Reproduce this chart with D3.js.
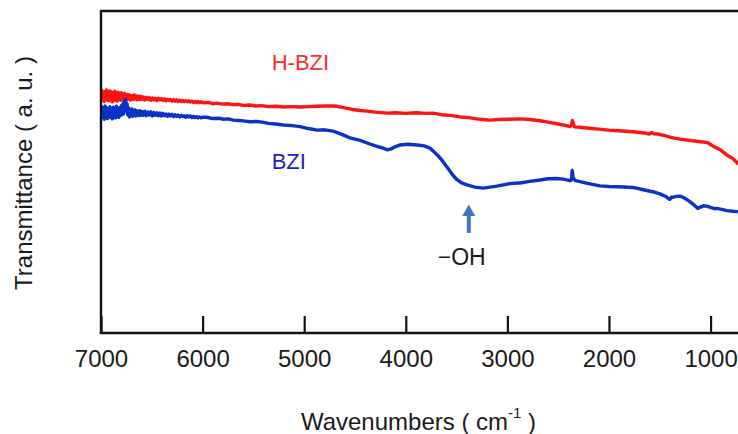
<!DOCTYPE html>
<html>
<head>
<meta charset="utf-8">
<script src="https://cdn.jsdelivr.net/npm/d3@7/dist/d3.min.js"></script>
<style>
  html, body { margin: 0; padding: 0; background: #fff; }
  svg { display: block; font-family: "Liberation Sans", Arial, sans-serif; }
</style>
</head>
<body>
<svg id="chart" width="738" height="434"></svg>
<script>
// FT-IR spectra: wavenumber (cm^-1) vs transmittance (a.u.)
const xTicks = [7000, 6000, 5000, 4000, 3000, 2000, 1000];

const hbziWavenumber = [7000, 6992, 6984, 6976, 6968, 6960, 6952, 6944, 6936, 6928, 6920, 6912, 6904, 6896, 6888, 6880, 6872, 6864, 6856, 6848, 6840, 6832, 6824, 6816, 6808, 6800, 6792, 6784, 6776, 6768, 6760, 6752, 6744, 6736, 6728, 6720, 6712, 6704, 6696, 6688, 6680, 6672, 6664, 6656, 6648, 6640, 6632, 6624, 6616, 6608, 6600,
  6585, 6570, 6555, 6540, 6525, 6510, 6495, 6480, 6465, 6450, 6435, 6420, 6405, 6390, 6375, 6360, 6345, 6330, 6315, 6300, 6285, 6270, 6255, 6240, 6225, 6210, 6195, 6180, 6165, 6150, 6135, 6120, 6105, 6090, 6075, 6060, 6045, 6030, 6015, 6000,
  5980, 5940, 5900, 5860, 5800, 5750, 5700, 5650, 5600, 5531, 5480, 5420, 5350, 5280, 5200, 5120, 5040, 4950, 4880, 4800, 4715, 4675, 4600, 4520, 4450, 4381, 4300, 4184, 4100, 4000, 3900, 3800, 3731, 3650, 3560, 3465, 3380, 3300, 3240, 3171, 3080, 2974, 2876, 2780, 2679, 2600, 2500, 2420, 2384, 2368, 2360, 2352, 2340, 2286, 2200, 2100, 2000, 1900, 1765, 1650, 1600, 1580, 1560, 1520, 1450, 1371, 1300, 1200, 1100, 1040, 1027, 978, 900, 840, 780, 741, 730];
const hbziTransmittance = [72.0, 75.3, 72.6, 74.8, 71.9, 75.0, 73.0, 75.5, 72.3, 74.6, 72.1, 75.2, 72.8, 74.9, 71.8, 74.7, 72.5, 75.1, 72.2, 74.4, 72.0, 74.8, 72.7, 74.3, 72.3, 74.6, 72.6, 74.2, 72.1, 74.5, 72.8, 74.0, 72.4, 74.1, 72.7, 73.9, 72.3, 73.8, 72.6, 73.7, 72.5, 73.9, 72.8, 73.5, 72.4, 73.6, 72.7, 73.4, 72.5, 73.5, 72.6,
  73.3, 72.4, 73.2, 72.5, 73.1, 72.3, 73.0, 72.4, 72.9, 72.2, 72.9, 72.4, 72.8, 72.2, 72.7, 72.1, 72.6, 72.2, 72.5, 72.0, 72.5, 72.0, 72.4, 71.9, 72.3, 71.9, 72.2, 71.8, 72.2, 71.8, 72.1, 71.7, 72.0, 71.6, 71.9, 71.6, 71.9, 71.5, 71.8, 71.6,
  71.5, 71.6, 71.2, 71.4, 71.1, 71.2, 70.9, 71.0, 70.7, 70.8, 70.5, 70.6, 70.3, 70.4, 70.2, 70.3, 70.2, 70.3, 70.4, 70.5, 70.5, 70.4, 69.9, 69.4, 69.1, 68.9, 68.6, 68.3, 68.4, 68.2, 68.4, 68.2, 68.3, 67.8, 67.6, 67.1, 66.9, 66.5, 66.3, 66.1, 66.3, 66.4, 66.5, 66.3, 65.9, 65.5, 64.9, 64.4, 64.1, 64.6, 66.0, 65.2, 64.0, 63.9, 63.6, 63.3, 63.0, 62.8, 62.5, 62.1, 61.8, 62.3, 61.9, 61.8, 61.3, 60.6, 60.2, 59.8, 59.4, 59.2, 59.1, 58.1, 56.8, 55.3, 54.2, 52.9, 52.4];

const bziWavenumber = [7000, 6992, 6984, 6976, 6968, 6960, 6952, 6944, 6936, 6928, 6920, 6912, 6904, 6896, 6888, 6880, 6872, 6864, 6856, 6848, 6840, 6832, 6824, 6816, 6808, 6800, 6792, 6784, 6776, 6768, 6760, 6752, 6744, 6736, 6728, 6720, 6712, 6704, 6696, 6688, 6680, 6672, 6664, 6656, 6648, 6640, 6632, 6624, 6616, 6608, 6600,
  6585, 6570, 6555, 6540, 6525, 6510, 6495, 6480, 6465, 6450, 6435, 6420, 6405, 6390, 6375, 6360, 6345, 6330, 6315, 6300, 6285, 6270, 6255, 6240, 6225, 6210, 6195, 6180, 6165, 6150, 6135, 6120, 6105, 6090, 6075, 6060, 6045, 6030, 6015, 6000,
  5960, 5900, 5840, 5800, 5747, 5700, 5640, 5580, 5531, 5470, 5413, 5350, 5280, 5206, 5120, 5040, 4960, 4873, 4800, 4715, 4630, 4549, 4450, 4381, 4300, 4223, 4184, 4150, 4100, 4056, 3980, 3889, 3820, 3761, 3731, 3680, 3633, 3580, 3534, 3495, 3450, 3397, 3320, 3239, 3170, 3102, 3040, 2974, 2900, 2876, 2780, 2679, 2600, 2512, 2450, 2384, 2368, 2362, 2355, 2345, 2330, 2286, 2200, 2089, 2000, 1900, 1765, 1650, 1560, 1499, 1440, 1410, 1400, 1385, 1371, 1340, 1300, 1283, 1240, 1204, 1160, 1125, 1100, 1070, 1037, 1000, 960, 939, 880, 840, 780, 741, 730];
const bziTransmittance = [66.8, 70.2, 67.0, 69.8, 66.4, 70.5, 67.5, 70.0, 66.6, 69.6, 67.2, 70.3, 66.9, 69.2, 66.5, 70.1, 67.4, 69.7, 66.8, 70.4, 67.3, 69.5, 67.0, 70.0, 67.6, 70.6, 67.8, 71.2, 68.1, 71.8, 72.6, 69.0, 71.3, 67.7, 69.9, 67.1, 69.4, 67.5, 69.6, 67.3, 69.2, 67.6, 69.3, 67.4, 69.0, 67.7, 68.9, 67.5, 69.0, 67.6, 68.8,
  67.6, 68.9, 67.5, 68.6, 67.7, 68.7, 67.4, 68.5, 67.6, 68.4, 67.5, 68.3, 67.4, 68.2, 67.5, 68.0, 67.3, 68.0, 67.4, 67.9, 67.2, 67.8, 67.3, 67.7, 67.1, 67.6, 67.2, 67.5, 67.0, 67.5, 67.1, 67.4, 66.9, 67.3, 66.9, 67.2, 66.8, 67.1, 66.8, 67.0,
  67.0, 66.6, 66.7, 66.4, 66.5, 66.1, 66.0, 65.8, 65.6, 65.7, 65.5, 65.1, 64.9, 64.6, 64.4, 64.1, 63.5, 63.0, 63.1, 62.7, 61.7, 60.6, 59.8, 59.0, 58.1, 57.4, 56.9, 57.1, 57.9, 58.4, 58.6, 58.4, 58.1, 57.4, 56.5, 55.0, 53.2, 50.9, 48.9, 47.6, 46.6, 46.0, 45.3, 45.0, 45.3, 45.6, 46.0, 46.4, 46.6, 46.6, 47.1, 47.5, 47.9, 48.0, 47.8, 47.3, 47.6, 50.5, 48.6, 47.8, 47.3, 47.0, 46.4, 45.7, 45.5, 45.4, 45.2, 44.4, 43.8, 43.2, 42.4, 41.6, 41.5, 42.2, 42.1, 42.4, 42.5, 42.3, 41.6, 40.8, 39.7, 38.7, 39.1, 39.5, 39.4, 39.0, 38.6, 38.7, 38.3, 38.0, 37.8, 37.7, 37.6];

const seriesNames = ["H-BZI", "BZI"];
const seriesColors = ["#ff1414", "#0a32c8"];
const labelColors = ["#ff2a2a", "#1f24c0"];
const peakWavenumber = 3380;
const peakLabel = "\u2212OH";

const svg = d3.select("#chart");
const margin = { left: 101, top: 11, right: 0, bottom: 101 };
const W = 738, H = 434;

const x = d3.scaleLinear().domain([7000, 730]).range([margin.left, W - margin.right]);
const y = d3.scaleLinear().domain([0, 100]).range([H - margin.bottom, margin.top]);

svg.append("defs").append("clipPath").attr("id", "plotclip")
  .append("rect")
  .attr("x", x.range()[0]).attr("y", y.range()[1])
  .attr("width", x.range()[1] - x.range()[0])
  .attr("height", y.range()[0] - y.range()[1]);

const line = d3.line().x(d => x(d[0])).y(d => y(d[1]));
const series = [
  d3.zip(hbziWavenumber, hbziTransmittance),
  d3.zip(bziWavenumber, bziTransmittance)
];

const plot = svg.append("g").attr("clip-path", "url(#plotclip)");
series.forEach((s, i) => {
  plot.append("path")
    .datum(s)
    .attr("fill", "none")
    .attr("stroke", seriesColors[i])
    .attr("stroke-width", 3.4)
    .attr("stroke-linejoin", "round")
    .attr("d", line);
});

// frame: left, top and bottom lines
const frameColor = "#111";
svg.append("line")
  .attr("x1", x.range()[0]).attr("x2", x.range()[0])
  .attr("y1", y.range()[1]).attr("y2", y.range()[0])
  .attr("stroke", frameColor).attr("stroke-width", 2.4);
svg.append("line")
  .attr("x1", x.range()[0] - 1.2).attr("x2", x.range()[1])
  .attr("y1", y.range()[1]).attr("y2", y.range()[1])
  .attr("stroke", frameColor).attr("stroke-width", 2.4);

const xAxis = d3.axisBottom(x)
  .tickValues(xTicks)
  .tickFormat(d3.format("d"))
  .tickSizeInner(-17)
  .tickSizeOuter(0)
  .tickPadding(17);

const gx = svg.append("g")
  .attr("transform", `translate(0,${y.range()[0]})`)
  .call(xAxis);
gx.select(".domain").attr("stroke", frameColor).attr("stroke-width", 2.4)
  .attr("d", `M${x.range()[0] - 1.2},0H${x.range()[1]}`);
gx.selectAll(".tick line").attr("stroke", frameColor).attr("stroke-width", 2.2);
gx.selectAll(".tick text")
  .attr("fill", "#1a1a1a")
  .style("font-size", "24px")
  .style("font-family", "'Liberation Sans', Arial, sans-serif");

// axis titles
const xTitle = svg.append("text")
  .attr("x", (x.range()[0] + x.range()[1]) / 2 - 1)
  .attr("y", 430)
  .attr("text-anchor", "middle")
  .attr("fill", "#1a1a1a")
  .style("font-size", "24px");
xTitle.append("tspan").text("Wavenumbers ( cm");
xTitle.append("tspan").attr("dy", -12).style("font-size", "15px").text("-1");
xTitle.append("tspan").attr("dy", 12).text(" )");

svg.append("text")
  .attr("transform", `translate(32,${(y.range()[0] + y.range()[1]) / 2 + 1}) rotate(-90)`)
  .attr("text-anchor", "middle")
  .attr("fill", "#1a1a1a")
  .style("font-size", "24px")
  .text("Transmittance ( a. u. )");

// series labels, placed in the plot at a fixed wavenumber
const labelWavenumber = 5320;
const labelBaselines = [70, 169];
seriesNames.forEach((name, i) => {
  svg.append("text")
    .attr("x", x(labelWavenumber))
    .attr("y", labelBaselines[i])
    .attr("fill", labelColors[i])
    .style("font-size", "22px")
    .text(name);
});

// peak marker
const ax = x(peakWavenumber);
const arrowColor = "#4472c4";
svg.append("line")
  .attr("x1", ax).attr("x2", ax)
  .attr("y1", 214).attr("y2", 233)
  .attr("stroke", arrowColor).attr("stroke-width", 4);
svg.append("path")
  .attr("d", `M${ax - 6.5},216L${ax},204.5L${ax + 6.5},216Z`)
  .attr("fill", arrowColor);
svg.append("text")
  .attr("x", ax - 7)
  .attr("y", 265)
  .attr("text-anchor", "middle")
  .attr("fill", "#1a1a1a")
  .style("font-size", "23px")
  .text(peakLabel);
</script>
</body>
</html>
